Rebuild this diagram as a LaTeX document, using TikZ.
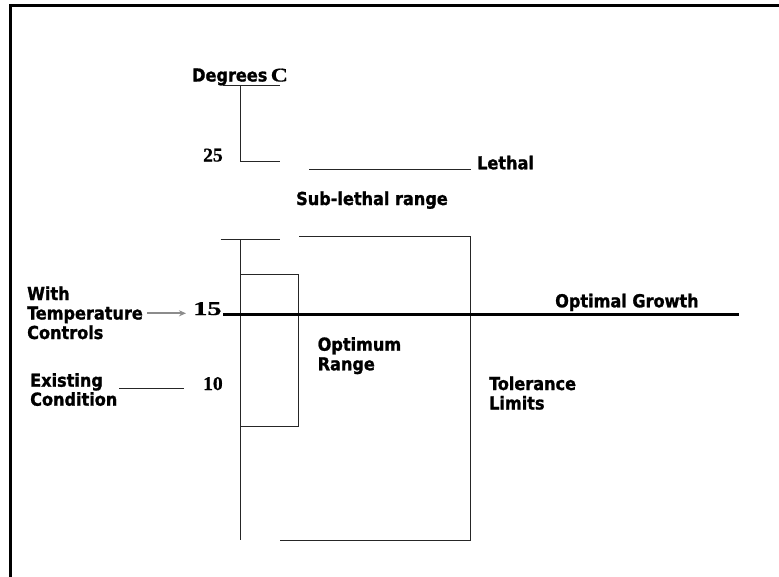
\documentclass[tikz,border=0pt]{standalone}
\usepackage{fontspec}
\usetikzlibrary{arrows.meta}
\newfontfamily\labfont{DejaVu Sans Condensed Bold}[FakeBold=1.2]
\newfontfamily\numfont{Liberation Serif Bold}[FakeBold=0.6]
\begin{document}
\begin{tikzpicture}[x=1pt,y=-1pt,
  lab/.style={font=\labfont\fontsize{17.9}{20}\selectfont, inner sep=0pt, anchor=base west},
  num/.style={font=\numfont\fontsize{19.5}{22}\selectfont, inner sep=0pt, anchor=base west},
  thin line/.style={line width=0.9pt, black!85},
  thick line/.style={line width=3pt, black}]
\useasboundingbox (0,0) rectangle (779,576);
\fill[white] (0,0) rectangle (779,576);
% frame
\coordinate (fbl) at (10,600);
\coordinate (ftl) at (10,5);
\coordinate (ftr) at (800,5);
\draw[line width=3pt, line join=miter] (fbl) -- (ftl) -- (ftr);
% texts
\node[lab] (deg) at (192,81.5) {Degrees};
\node[num, xscale=1.22] (degc) at (270.5,81.5) {C};
\node[num] (n25) at (203,161.5) {25};
\node[num, xscale=1.45] (n15) at (193,315) {15};
\node[num] (n10) at (203,390) {10};
\node[lab] (lethal) at (477,169.3) {Lethal};
\node[lab] (sub) at (296,205) {Sub-lethal range};
\node[lab] (optg) at (555,307.3) {Optimal Growth};
\node[lab] (with1) at (27,300) {With};
\node[lab] (with2) at (27,319.5) {Temperature};
\node[lab] (with3) at (27,339) {Controls};
\node[lab] (ex1) at (30,386.7) {Existing};
\node[lab] (ex2) at (30,405.7) {Condition};
\node[lab] (opt1) at (317.5,350.7) {Optimum};
\node[lab] (opt2) at (317.5,370.3) {Range};
\node[lab] (tol1) at (489,390) {Tolerance};
\node[lab] (tol2) at (489,409.5) {Limits};
% degrees axis bracket
\coordinate (du1) at (223.3,85);
\coordinate (du2) at (280,85);
\coordinate (dv) at (240.7,85);
\coordinate (d25) at (240.7,161);
\coordinate (d25e) at (280,161);
\draw[thin line] (du1) -- (du2);
\draw[thin line] (dv) -- (d25) -- (d25e);
% lethal line
\coordinate (l1) at (309,169);
\coordinate (l2) at (470.7,169);
\draw[thin line] (l1) -- (l2);
% main axis
\coordinate (a0) at (220.7,239);
\coordinate (a0e) at (280,239);
\coordinate (at) at (240.7,239);
\coordinate (ab) at (240.7,540);
\draw[thin line] (a0) -- (a0e);
\draw[thin line] (at) -- (ab);
% optimum range box
\coordinate (o1) at (240.7,274.3);
\coordinate (o2) at (298,274.3);
\coordinate (o3) at (298,426.7);
\coordinate (o4) at (240.7,426.7);
\draw[thin line] (o1) -- (o2) -- (o3) -- (o4);
% tolerance box
\coordinate (t1) at (299.3,236.7);
\coordinate (t2) at (470.7,236.7);
\coordinate (t3) at (470.7,540);
\coordinate (t4) at (280,540);
\draw[thin line] (t1) -- (t2) -- (t3) -- (t4);
% optimal growth line
\coordinate (g1) at (223,314);
\coordinate (g2) at (739,314);
\draw[thick line] (g1) -- (g2);
% existing condition line
\coordinate (e1) at (119,388.3);
\coordinate (e2) at (184,388.3);
\draw[thin line] (e1) -- (e2);
% arrow to 15
\coordinate (w1) at (147,313.3);
\coordinate (w2) at (186,313.3);
\draw[line width=1.8pt, black!45, -{Stealth[length=7pt,width=6pt]}] (w1) -- (w2);
\end{tikzpicture}
\end{document}
